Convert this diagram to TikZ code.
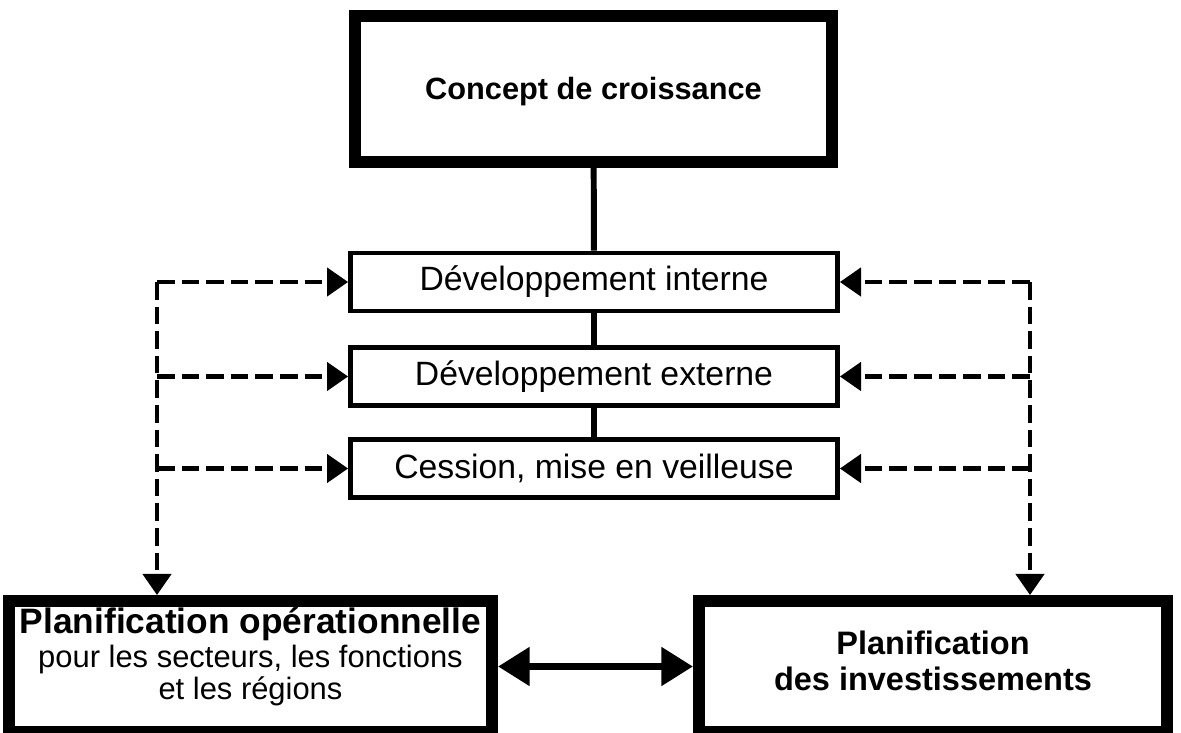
\documentclass[tikz,border=0pt]{standalone}
\usepackage{fontspec}
\setmainfont{Liberation Sans}
\usetikzlibrary{arrows.meta}

\begin{document}
\begin{tikzpicture}[x=0.02cm, y=-0.02cm,
    bigbox/.style={draw, line width=6.8pt, inner sep=0pt, align=center},
    stagebox/.style={draw, line width=2.8pt, minimum width=9.74cm, minimum height=1.16cm, inner sep=0pt,
      font=\fontsize{19.2}{20}\selectfont},
    link/.style={line width=3.4pt},
    feed/.style={line width=2.4pt, dash pattern=on 10pt off 4pt, -{Triangle[length=12pt,width=16pt]}}]
            \useasboundingbox (0, 0) rectangle (1181, 733);

            \node[bigbox, minimum width=9.54cm, minimum height=2.92cm, text depth=1pt, font=\bfseries\fontsize{17.5}{20}\selectfont] (concept) at (593.5, 89) {Concept de croissance};

            \node[stagebox] (interne) at (594, 282) {Développement interne};
            \node[stagebox] (externe) at (594, 376.5) {Développement externe};
            \node[stagebox] (cession) at (594, 468.5) {Cession, mise en veilleuse};

            \node[bigbox, minimum width=9.66cm, minimum height=2.62cm, text depth=15pt] (operat) at (250.5, 666.5)
                {{\bfseries\fontsize{20.1}{18}\selectfont Planification opérationnelle}\\[1.5pt]
                 {\fontsize{17.6}{18}\selectfont pour les secteurs, les fonctions}\\[0.5pt]
                 {\fontsize{17.6}{18}\selectfont et les régions}};
            \node[bigbox, minimum width=9.36cm, minimum height=2.62cm, text depth=7pt, font=\bfseries\fontsize{18.5}{19.5}\selectfont] (invest) at (933, 666.5)
                {Planification\\[1pt]des investissements};

            \draw[link] (concept) -- (interne);
            \draw[link] (interne) -- (externe);
            \draw[link] (externe) -- (cession);

            \coordinate (lcol) at (157, 0);
            \coordinate (rcol) at (1030, 0);

            % feedback lines, left and right
            \draw[feed] (interne.west -| lcol) -- (operat.north -| lcol);
            \draw[feed] (interne.east -| rcol) -- (invest.north -| rcol);
            \foreach \stage in {interne, externe, cession} {
                \draw[feed] (\stage.west -| lcol) -- (\stage.west);
                \draw[feed] (\stage.east -| rcol) -- (\stage.east);
            }

            \draw[line width=4.5pt, {Triangle[length=18pt,width=21pt]}-{Triangle[length=18pt,width=21pt]}] (operat.east) -- (invest.west);
\end{tikzpicture}
\end{document}
